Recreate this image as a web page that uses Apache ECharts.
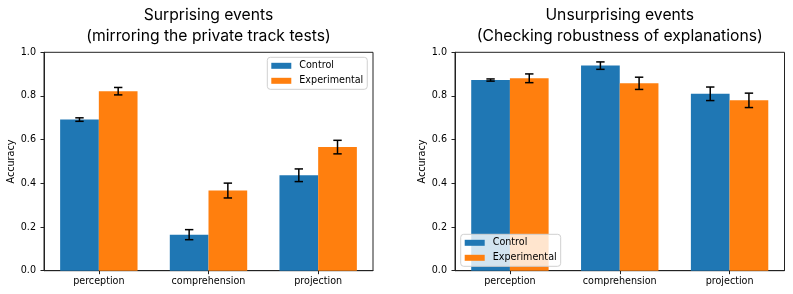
<!DOCTYPE html>
<html>
<head>
<meta charset="utf-8">
<script src="https://cdn.jsdelivr.net/npm/echarts@6/dist/echarts.min.js"></script>
<style>
html,body{margin:0;padding:0;background:#fff;}
#chart{width:793px;height:294px;}
</style>
</head>
<body>
<div id="chart"></div>
<script>
// ---- data ----
const categories = ['perception', 'comprehension', 'projection'];
const seriesNames = ['Control', 'Experimental'];
const surprisingControl = [0.692, 0.165, 0.437];
const surprisingControlErr = [0.008, 0.023, 0.029];
const surprisingExperimental = [0.822, 0.367, 0.566];
const surprisingExperimentalErr = [0.017, 0.034, 0.031];
const unsurprisingControl = [0.873, 0.939, 0.810];
const unsurprisingControlErr = [0.005, 0.017, 0.031];
const unsurprisingExperimental = [0.881, 0.858, 0.780];
const unsurprisingExperimentalErr = [0.020, 0.028, 0.033];
const yMin = 0, yMax = 1, yStep = 0.2;
const titles = [
  'Surprising events\n(mirroring the private track tests)',
  'Unsurprising events\n(Checking robustness of explanations)'
];
const yAxisName = 'Accuracy';

// ---- styles ----
const BLUE = '#1f77b4', ORANGE = '#ff7f0e';
const FONT = 'DejaVu Sans';
const FS = 9.6;
const BAR_W = 38.7;
const grids = [
  {left: 44, top: 52.3, width: 329, height: 218.4},
  {left: 455, top: 52.3, width: 329.5, height: 218.4}
];

function errSeries(gi, vals, errs, offset) {
  return {
    type: 'custom',
    xAxisIndex: gi, yAxisIndex: gi,
    z: 5,
    silent: true,
    data: vals.map((v, i) => [i, v, errs[i]]),
    encode: {x: 0, y: 1},
    renderItem: function (params, api) {
      const i = api.value(0), v = api.value(1), e = api.value(2);
      const lo = api.coord([i, v - e]);
      const hi = api.coord([i, v + e]);
      const x = lo[0] + offset;
      const cap = 4.2;
      const st = {stroke: '#000', lineWidth: 1.5};
      return {type: 'group', children: [
        {type: 'line', shape: {x1: x, y1: lo[1], x2: x, y2: hi[1]}, style: st},
        {type: 'line', shape: {x1: x - cap, y1: lo[1], x2: x + cap, y2: lo[1]}, style: st},
        {type: 'line', shape: {x1: x - cap, y1: hi[1], x2: x + cap, y2: hi[1]}, style: st}
      ]};
    }
  };
}

function barSeries(gi, name, vals, color) {
  return {
    type: 'bar', name: name, xAxisIndex: gi, yAxisIndex: gi,
    data: vals, barWidth: BAR_W, barGap: '0%',
    itemStyle: {color: color},
    z: 2
  };
}

const axisColor = '#222';
const chart = echarts.init(document.getElementById('chart'), null, {renderer: 'canvas'});
chart.setOption({
  animation: false,
  backgroundColor: '#fff',
  title: titles.map((t, gi) => ({
    text: t,
    left: grids[gi].left + grids[gi].width / 2,
    textAlign: 'center',
    top: 4.5,
    padding: 0,
    textStyle: {fontFamily: 'Inter', fontSize: 15.7, fontWeight: 'normal', color: '#000', lineHeight: 21}
  })),
  legend: [
    {left: 267.3, top: 57.3},
    {left: 460.7, top: 234.3}
  ].map(p => ({
    data: seriesNames,
    left: p.left, top: p.top,
    orient: 'vertical',
    icon: 'rect',
    itemWidth: 20, itemHeight: 6,
    itemGap: 2,
    padding: [2, 4, 2, 4],
    backgroundColor: 'rgba(255,255,255,0.8)',
    borderColor: '#d0d0d0', borderWidth: 1, borderRadius: 3,
    selectedMode: false,
    textStyle: {fontFamily: FONT, fontSize: FS, color: '#000', lineHeight: 13, padding: [0, 0, 0, 3]}
  })),
  grid: grids.map(g => Object.assign({}, g, {show: true, borderColor: axisColor, borderWidth: 1, backgroundColor: 'transparent', containLabel: false})),
  xAxis: grids.map((g, gi) => ({
    type: 'category', gridIndex: gi, data: categories,
    axisLine: {show: true, lineStyle: {color: axisColor, width: 1}},
    axisTick: {show: true, alignWithLabel: true, length: 3.5, lineStyle: {color: axisColor}},
    axisLabel: {fontFamily: FONT, fontSize: FS, color: '#000', margin: 6},
    splitLine: {show: false}
  })),
  yAxis: grids.map((g, gi) => ({
    type: 'value', gridIndex: gi, min: yMin, max: yMax, interval: yStep,
    name: yAxisName, nameLocation: 'middle', nameRotate: 90, nameGap: 27,
    nameTextStyle: {fontFamily: FONT, fontSize: FS, color: '#000'},
    axisLine: {show: true, lineStyle: {color: axisColor, width: 1}},
    axisTick: {show: true, length: 3.5, lineStyle: {color: axisColor}},
    axisLabel: {fontFamily: FONT, fontSize: FS, color: '#000', margin: 8, formatter: v => v.toFixed(1)},
    splitLine: {show: false}
  })),
  series: [
    barSeries(0, seriesNames[0], surprisingControl, BLUE),
    barSeries(0, seriesNames[1], surprisingExperimental, ORANGE),
    barSeries(1, seriesNames[0], unsurprisingControl, BLUE),
    barSeries(1, seriesNames[1], unsurprisingExperimental, ORANGE),
    errSeries(0, surprisingControl, surprisingControlErr, -BAR_W / 2),
    errSeries(0, surprisingExperimental, surprisingExperimentalErr, BAR_W / 2),
    errSeries(1, unsurprisingControl, unsurprisingControlErr, -BAR_W / 2),
    errSeries(1, unsurprisingExperimental, unsurprisingExperimentalErr, BAR_W / 2)
  ]
});
</script>
</body>
</html>
